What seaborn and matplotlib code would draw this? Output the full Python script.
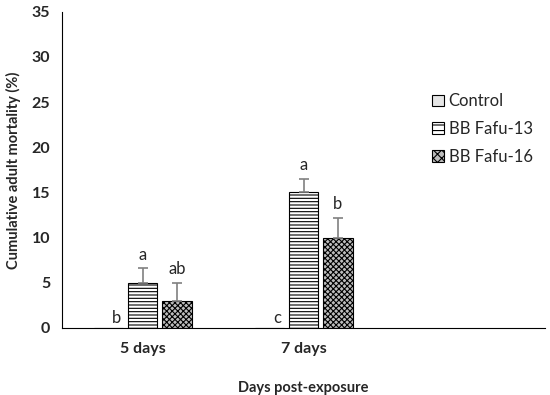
import matplotlib
matplotlib.use("Agg")
import matplotlib.pyplot as plt
import seaborn as sns
import pandas as pd
import numpy as np

days = ["5 days", "7 days", ""]
groups = ["Control", "BB Fafu-13", "BB Fafu-16"]
mort_5d = [0, 5, 3]
mort_7d = [0, 15, 10]
err_5d = [0, 1.6, 2.0]
err_7d = [0, 1.5, 2.2]
letters_5d = ["b", "a", "ab"]
letters_7d = ["c", "a", "b"]

rows = []
for d, vals, errs, lets in [("5 days", mort_5d, err_5d, letters_5d),
                            ("7 days", mort_7d, err_7d, letters_7d)]:
    for g, v, e, l in zip(groups, vals, errs, lets):
        rows.append({"day": d, "group": g, "value": v, "err": e, "letter": l})
df = pd.DataFrame(rows)

sns.set_style("white")
plt.rcParams["font.family"] = ["Lato", "DejaVu Sans"]
plt.rcParams["hatch.linewidth"] = 0.8

fig = plt.figure(figsize=(5.5, 3.95), dpi=100)
ax = fig.add_axes([0.113, 0.170, 0.878, 0.800])

sns.barplot(data=df, x="day", y="value", hue="group", order=days,
            hue_order=groups, width=0.64, gap=0.15, errorbar=None,
            palette=["white", "white", "white"], edgecolor="black",
            linewidth=0.8, ax=ax, legend=True)

hatches = {"Control": "", "BB Fafu-13": "-----", "BB Fafu-16": "xxxxxx"}
leg_hatches = {"Control": "", "BB Fafu-13": "---", "BB Fafu-16": "xxxx"}
faces = {"Control": "#e6e6e6", "BB Fafu-13": "white", "BB Fafu-16": "#bdbdbd"}
for cont, g in zip(ax.containers, groups):
    for bar in cont:
        bar.set_hatch(hatches[g])
        bar.set_facecolor(faces[g])
        bar.set_edgecolor("black")

for cont, g in zip(ax.containers, groups):
    sub = df[df.group == g]
    for bar, (_, r) in zip(cont, sub.iterrows()):
        x = bar.get_x() + bar.get_width() / 2
        top = r.value + r.err
        if r.err > 0:
            ax.errorbar(x, r.value, yerr=[[0], [r.err]], fmt="none",
                        ecolor="#808080", elinewidth=1.2, capsize=3.5, capthick=1.2)
            ax.text(x, top + 0.6, r.letter, ha="center", va="bottom", fontsize=12)
        else:
            ax.text(x + 0.05, 0.2, r.letter, ha="center", va="bottom", fontsize=12)

ax.set_ylim(0, 35)
ax.set_yticks(np.arange(0, 36, 5))
ax.set_xlim(-0.5, 2.5)
ax.set_xticks([0, 1, 2])
ax.set_xticklabels(days, fontweight="bold", fontsize=11.5)
ax.set_xticks([-0.5, 0.5, 1.5, 2.5], minor=True)
ax.tick_params(axis="x", which="major", length=0, pad=10)
ax.tick_params(axis="x", which="minor", length=5, direction="out", width=0.8)
ax.tick_params(axis="y", length=5, direction="out", width=0.8, labelsize=11.5)
for lab in ax.get_yticklabels():
    lab.set_fontweight("bold")
ax.set_ylabel("Cumulative adult mortality (%)", fontweight="bold", fontsize=10.5,
              labelpad=8)
ax.set_xlabel("Days post-exposure", fontweight="bold", fontsize=10.5, labelpad=18)
sns.despine(ax=ax)
for s in ["left", "bottom"]:
    ax.spines[s].set_linewidth(0.8)
    ax.spines[s].set_color("black")

handles, labels = ax.get_legend_handles_labels()
leg = ax.legend(handles, labels, loc="upper left", bbox_to_anchor=(0.735, 0.79),
                frameon=False, fontsize=12, handlelength=0.7, handleheight=0.7,
                handletextpad=0.3, labelspacing=0.7)
for patch, g in zip(leg.get_patches(), labels):
    patch.set_hatch(leg_hatches[g])
    patch.set_facecolor(faces[g])
    patch.set_edgecolor("black")

fig.savefig("out.png", dpi=100)
